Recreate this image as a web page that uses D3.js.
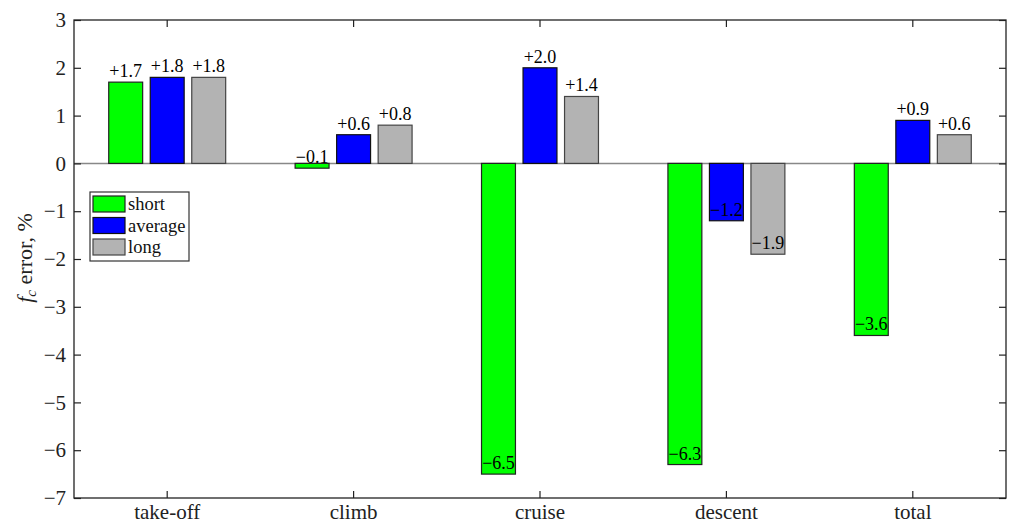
<!DOCTYPE html>
<html>
<head>
<meta charset="utf-8">
<script src="https://cdn.jsdelivr.net/npm/d3@7"></script>
<style>
  body { margin: 0; background: #fff; }
</style>
</head>
<body>
<svg id="chart" width="1009" height="526"></svg>
<script>
// Flight phases and the f_c error (%) of each mission length
const categories = ["take-off", "climb", "cruise", "descent", "total"];
const seriesNames = ["short", "average", "long"];
const shortVals = [1.7, -0.1, -6.5, -6.3, -3.6];
const averageVals = [1.8, 0.6, 2.0, -1.2, 0.9];
const longVals = [1.8, 0.8, 1.4, -1.9, 0.6];
const yTicks = [3, 2, 1, 0, -1, -2, -3, -4, -5, -6, -7];

const FONT = '"Liberation Serif", "Times New Roman", serif';

const series = [
  { name: seriesNames[0], values: shortVals, fill: "#00ff00", stroke: "#222" },
  { name: seriesNames[1], values: averageVals, fill: "#0000ff", stroke: "#111" },
  { name: seriesNames[2], values: longVals, fill: "#b3b3b3", stroke: "#444" }
];

const svg = d3.select("#chart");
const m = { left: 74, top: 20, right: 1006, bottom: 498 };

const x = d3.scaleBand().domain(categories).range([m.left, m.right]).paddingInner(0).paddingOuter(0);
const y = d3.scaleLinear().domain([-7, 3]).range([m.bottom, m.top]);

// group offset and bar width as fractions of a category band
const step = x.bandwidth();
const offsetFrac = 0.2227, widthFrac = 0.182;
const barCenter = (i, si) => x(categories[i]) + step / 2 + (si - 1) * offsetFrac * step;

const fmt = v => (v > 0 ? "+" : "\u2212") + Math.abs(v).toFixed(1);

// zero baseline
svg.append("line")
  .attr("x1", m.left).attr("x2", m.right)
  .attr("y1", y(0)).attr("y2", y(0))
  .attr("stroke", "#888").attr("stroke-width", 1.5);

// bars
series.forEach((s, si) => {
  const g = svg.append("g");
  s.values.forEach((v, i) => {
    const w = widthFrac * step;
    g.append("rect")
      .attr("x", barCenter(i, si) - w / 2)
      .attr("y", Math.min(y(v), y(0)))
      .attr("width", w)
      .attr("height", Math.abs(y(v) - y(0)))
      .attr("fill", s.fill)
      .attr("stroke", s.stroke)
      .attr("stroke-width", 1.2);
  });
});

// value labels, bottom-aligned at the bar end
series.forEach((s, si) => {
  s.values.forEach((v, i) => {
    svg.append("text")
      .attr("x", barCenter(i, si))
      .attr("y", y(v) - 5)
      .attr("text-anchor", "middle")
      .style("font-family", FONT)
      .style("font-size", "18px")
      .attr("fill", "#000")
      .text(fmt(v));
  });
});

// axes box with inward ticks
const axisColor = "#222";
const tickLen = 7;

function styleAxis(g) {
  g.select(".domain").remove();
  g.selectAll("line").attr("stroke", axisColor).attr("stroke-width", 1.2);
  g.selectAll("text").style("font-family", FONT).style("font-size", "21px").attr("fill", "#222");
}

const yAxisL = d3.axisLeft(y).tickValues(yTicks).tickSize(-tickLen).tickPadding(8)
  .tickFormat(d => d < 0 ? "\u2212" + Math.abs(d) : String(d));
svg.append("g").attr("transform", `translate(${m.left},0)`).call(yAxisL).call(styleAxis);

const yAxisR = d3.axisRight(y).tickValues(yTicks).tickSize(-tickLen).tickFormat("");
svg.append("g").attr("transform", `translate(${m.right},0)`).call(yAxisR).call(styleAxis);

const xAxisB = d3.axisBottom(x).tickSize(-tickLen).tickPadding(6);
svg.append("g").attr("transform", `translate(0,${m.bottom})`).call(xAxisB).call(styleAxis);

const xAxisT = d3.axisTop(x).tickSize(-tickLen).tickFormat("");
svg.append("g").attr("transform", `translate(0,${m.top})`).call(xAxisT).call(styleAxis);

svg.append("rect")
  .attr("x", m.left).attr("y", m.top)
  .attr("width", m.right - m.left).attr("height", m.bottom - m.top)
  .attr("fill", "none").attr("stroke", axisColor).attr("stroke-width", 1.3);

// y-axis title
const yt = svg.append("text")
  .attr("transform", `translate(32,258) rotate(-90)`)
  .attr("text-anchor", "middle")
  .style("font-family", FONT)
  .style("font-size", "22px")
  .attr("fill", "#222");
yt.append("tspan").attr("font-style", "italic").text("f");
yt.append("tspan").attr("font-style", "italic").style("font-size", "15px").attr("dy", 4).text("c");
yt.append("tspan").attr("dy", -4).text(" error, %");

// legend
const lg = svg.append("g").attr("transform", "translate(90,192)");
lg.append("rect").attr("width", 99).attr("height", 69)
  .attr("fill", "#fff").attr("stroke", "#333").attr("stroke-width", 1.2);
series.forEach((s, i) => {
  const row = lg.append("g").attr("transform", `translate(3,${4 + i * 21.5})`);
  row.append("rect").attr("width", 32).attr("height", 16)
    .attr("fill", s.fill).attr("stroke", s.stroke).attr("stroke-width", 1.2);
  row.append("text").attr("x", 35).attr("y", 14)
    .style("font-family", FONT).style("font-size", "18.5px")
    .attr("fill", "#111").text(s.name);
});
</script>
</body>
</html>
